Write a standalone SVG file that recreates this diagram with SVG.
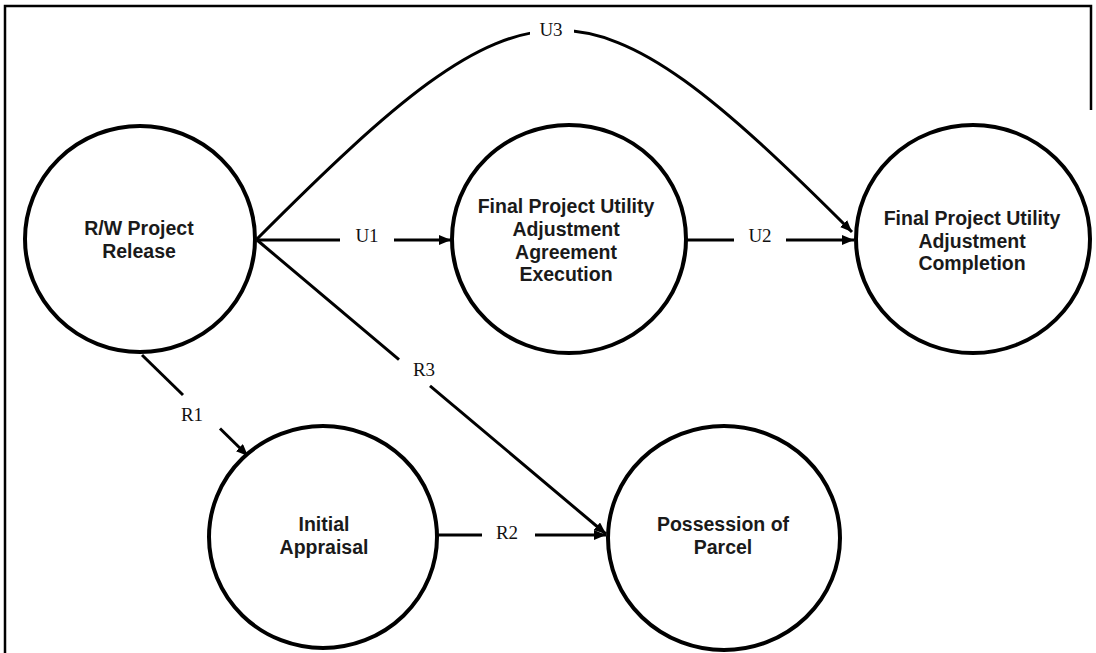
<svg xmlns="http://www.w3.org/2000/svg" width="1096" height="653" viewBox="0 0 1096 653">
<style>
.node{fill:#fff;stroke:#000;stroke-width:4}
.nt{font-family:"Liberation Sans",Arial,sans-serif;font-weight:bold;font-size:19.5px;fill:#1a1a1a;text-anchor:middle}
.con{fill:none;stroke:#000;stroke-width:3}
.lbl{font-family:"Liberation Serif","Times New Roman",serif;font-size:19px;fill:#111;text-anchor:middle}
.frame{fill:none;stroke:#000;stroke-width:2.5}
</style>
<defs>
<marker id="arr" markerUnits="userSpaceOnUse" markerWidth="13" markerHeight="11" refX="12" refY="5" orient="auto">
<path d="M0,0 L12,5 L0,10 z" fill="#000"/>
</marker>
</defs>
<rect width="1096" height="653" fill="#fff"/>
<path class="frame" d="M5,653 V6 H1091 V110"/>

<g id="connectors">
<path id="U3" class="con" d="M257,239 C533,-38 582,-38 852,232" marker-end="url(#arr)"/>
<line class="con" x1="257" y1="240" x2="340" y2="240"/>
<line class="con" x1="394" y1="240" x2="451" y2="240" marker-end="url(#arr)"/>
<line class="con" x1="686" y1="240" x2="734" y2="240"/>
<line class="con" x1="786" y1="240" x2="854" y2="240" marker-end="url(#arr)"/>
<line class="con" x1="257" y1="240" x2="399" y2="359.6"/>
<line class="con" x1="430" y1="385.8" x2="606" y2="534" marker-end="url(#arr)"/>
<line class="con" x1="142" y1="355" x2="183" y2="395"/>
<line class="con" x1="220" y1="428.5" x2="248" y2="456" marker-end="url(#arr)"/>
<line class="con" x1="437" y1="535" x2="482" y2="535"/>
<line class="con" x1="535" y1="535" x2="606" y2="535" marker-end="url(#arr)"/>
<rect x="530" y="14" width="44" height="26" fill="#fff"/>
<text class="lbl" x="551" y="36">U3</text>
<text class="lbl" x="367" y="242">U1</text>
<text class="lbl" x="760" y="242">U2</text>
<text class="lbl" x="424" y="376">R3</text>
<text class="lbl" x="192" y="421">R1</text>
<text class="lbl" x="507" y="539">R2</text>
</g>

<g id="rw-project-release">
<ellipse class="node" cx="140" cy="239" rx="115" ry="113"/>
<text class="nt" x="139" y="235">R/W Project</text>
<text class="nt" x="139" y="258">Release</text>
</g>

<g id="agreement-execution">
<ellipse class="node" cx="569" cy="239" rx="117" ry="114"/>
<text class="nt" x="566" y="213">Final Project Utility</text>
<text class="nt" x="566" y="236">Adjustment</text>
<text class="nt" x="566" y="258.5">Agreement</text>
<text class="nt" x="566" y="281">Execution</text>
</g>

<g id="adjustment-completion">
<ellipse class="node" cx="973" cy="239" rx="117" ry="114"/>
<text class="nt" x="972" y="225">Final Project Utility</text>
<text class="nt" x="972" y="248">Adjustment</text>
<text class="nt" x="972" y="270">Completion</text>
</g>

<g id="initial-appraisal">
<ellipse class="node" cx="323" cy="537" rx="114" ry="111"/>
<text class="nt" x="324" y="531">Initial</text>
<text class="nt" x="324" y="554">Appraisal</text>
</g>

<g id="possession-of-parcel">
<ellipse class="node" cx="724" cy="538" rx="116" ry="112"/>
<text class="nt" x="723" y="531">Possession of</text>
<text class="nt" x="723" y="554">Parcel</text>
</g>
</svg>
